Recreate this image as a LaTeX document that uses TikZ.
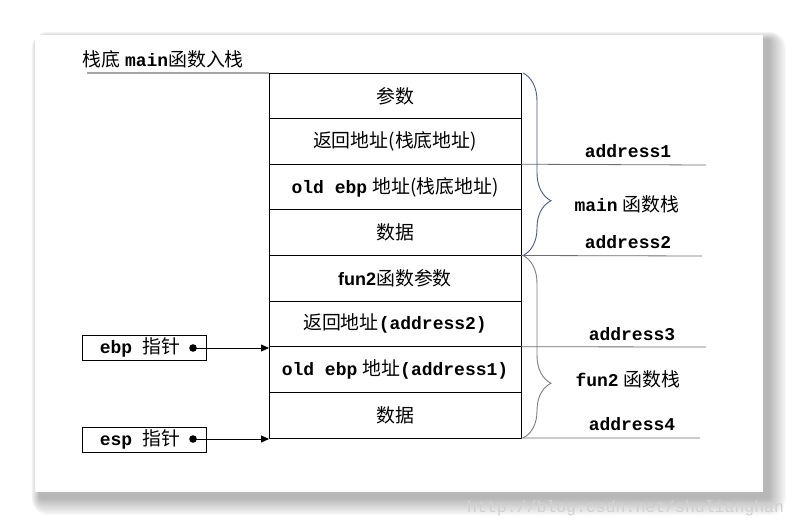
\documentclass[tikz,border=0pt]{standalone}
\usepackage{fontspec}
\setmainfont{Liberation Sans}
\setmonofont{Liberation Mono}
\newfontfamily\cjk{Noto Sans CJK SC}[Scale=1.05]
\usetikzlibrary{positioning,arrows.meta,decorations.pathreplacing}
\newcommand\zh[1]{{\cjk #1}}
\newcommand\mb[1]{{\ttfamily\bfseries #1}}
\definecolor{bracemain}{RGB}{72,92,130}
\definecolor{bracefun}{RGB}{125,125,125}
\definecolor{addrline}{RGB}{110,110,110}
\tikzset{
  cell/.style={draw, line width=0.8pt, minimum width=252pt, minimum height=45.625pt,
    inner sep=0pt, outer sep=0pt, font=\fontsize{18}{21}\selectfont},
  ptrbox/.style={draw, line width=0.8pt, minimum width=124pt, minimum height=25pt,
    inner sep=0pt, outer sep=0pt, font=\fontsize{18}{21}\selectfont},
  lbl/.style={inner sep=0pt, font=\fontsize{18}{21}\selectfont},
  addr/.style={draw=addrline, line width=0.8pt},
  stackbrace/.style={decorate, decoration={brace, amplitude=28pt, aspect=0.7}, line width=0.9pt},
  ptrarrow/.style={line width=0.8pt, -{Triangle[length=8pt,width=7pt]}}
}
\begin{document}
\begin{tikzpicture}[x=1pt,y=-1pt]
        \useasboundingbox (0,0) rectangle (798,527);
        % panel with shadow
        \foreach \i in {1,...,14}
          \fill [black, opacity=0.022, rounded corners=\i*1.2pt]
            (40-\i*0.6,40-\i*0.6) rectangle (768+\i*1.3,497+\i*1.3);
        \fill [white] (35,35) rectangle (763,492);
        % title
        \node [lbl, anchor=west] (title) at (82,59) {\zh{栈底}\ \mb{main}\zh{函数入栈}};
        \coordinate (base) at (87,73);
        % stack cells
        \node [cell] (r1) at (395,95.8) {\zh{参数}};
        \node [cell, below=0pt of r1] (r2) {\zh{返回地址(栈底地址)}};
        \node [cell, below=0pt of r2] (r3) {\mb{old ebp} \zh{地址(栈底地址)}};
        \node [cell, below=0pt of r3] (r4) {\zh{数据}};
        \node [cell, below=0pt of r4] (r5) {{\bfseries fun2}\zh{函数参数}};
        \node [cell, below=0pt of r5] (r6) {\zh{返回地址}\mb{(address2)}};
        \node [cell, below=0pt of r6] (r7) {\mb{old ebp} \zh{地址}\mb{(address1)}};
        \node [cell, below=0pt of r7] (r8) {\zh{数据}};
        \draw [line width=0.8pt] (base) -- (r1.north west);
        % address lines
        \coordinate (a1) at (706,165);
        \coordinate (a2) at (702,256);
        \coordinate (a3) at (706,347);
        \coordinate (a4) at (700,438);
        \draw [addr] (r2.south east) -- (a1);
        \draw [addr] (r4.south east) -- (a2);
        \draw [addr] (r6.south east) -- (a3);
        \draw [addr] (r8.south east) -- (a4);
        \node [lbl] (l1) at (628,151) {\mb{address1}};
        \node [lbl] (l2) at (628,242) {\mb{address2}};
        \node [lbl] (l3) at (632,334) {\mb{address3}};
        \node [lbl] (l4) at (632,424) {\mb{address4}};
        \node [lbl] (mainstk) at (627,204) {\mb{main}\ \zh{函数栈}};
        \node [lbl] (funstk) at (628,379) {\mb{fun2}\ \zh{函数栈}};
        % braces
        \draw [stackbrace, draw=bracemain] ([xshift=2pt]r1.north east) -- ([xshift=2pt]r4.south east);
        \draw [stackbrace, draw=bracefun] ([xshift=2pt]r5.north east) -- ([xshift=2pt]r8.south east);
        % pointers
        \node [ptrbox] (ebp) at (144,347.5) {\hspace*{-8pt}\mb{ebp}\ \ \zh{指针}};
        \node [ptrbox] (esp) at (144,439.5) {\hspace*{-8pt}\mb{esp}\ \ \zh{指针}};
        \coordinate (ebpdot) at (193,348);
        \coordinate (espdot) at (193,439);
        \fill [black] (ebpdot) circle (3.8pt);
        \fill [black] (espdot) circle (3.8pt);
        \draw [ptrarrow] (ebpdot) -- (ebpdot -| r7.west);
        \draw [ptrarrow] (espdot) -- (espdot -| r8.west);
        % watermark
        \node [inner sep=0pt, anchor=west, text=black!18, font=\ttfamily\fontsize{16.5}{18}\selectfont] (mark) at (467,508) {http://blog.csdn.net/shulianghan};
        \end{tikzpicture}
\end{document}
